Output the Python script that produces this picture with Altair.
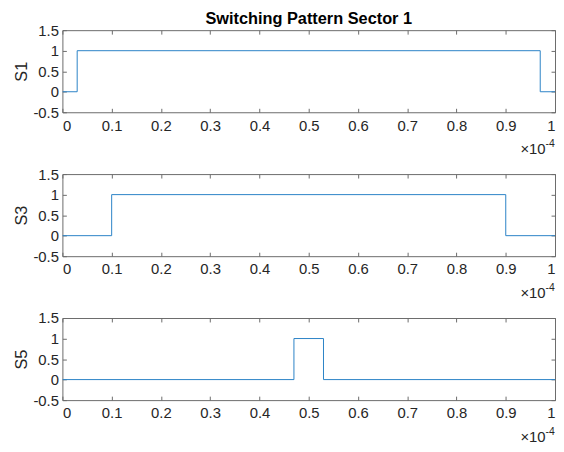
import altair as alt
import pandas as pd

# switching instants (in units of 1e-4 s) and states
t_s1 = [0.0, 0.03, 0.97, 1.0]
v_s1 = [0, 1, 0, 0]
t_s3 = [0.0, 0.10, 0.90, 1.0]
v_s3 = [0, 1, 0, 0]
t_s5 = [0.0, 0.47, 0.53, 1.0]
v_s5 = [0, 1, 0, 0]

x_ticks = [0, 0.1, 0.2, 0.3, 0.4, 0.5, 0.6, 0.7, 0.8, 0.9, 1]
y_ticks = [-0.5, 0, 0.5, 1, 1.5]
exp_base = ["×10"]
exp_power = ["-4"]

FONT = "Liberation Sans"
W, H = 498, 83
AX = "#6b6b6b"
TXT = "#262626"
LINE = "#2b83c6"


def panel(t, v, name, title=None):
    df = pd.DataFrame({"t": t, "v": v})
    xs = alt.Scale(domain=[0, 1], nice=False, zero=False)
    ys = alt.Scale(domain=[-0.5, 1.5], nice=False, zero=False)
    common = dict(domain=False, grid=False, tickSize=4, offset=-4,
                  tickColor=AX, tickWidth=1, labelFont=FONT, labelFontSize=15,
                  labelColor=TXT, labelExpr="'' + datum.value")
    main = alt.Chart(df).mark_line(
        interpolate="step-after", color=LINE, strokeWidth=1, clip=True
    ).encode(
        x=alt.X("t:Q", scale=xs, axis=alt.Axis(
            orient="bottom", values=x_ticks, labelPadding=6, title=None,
            **common)),
        y=alt.Y("v:Q", scale=ys, axis=alt.Axis(
            orient="left", values=y_ticks, labelPadding=4,
            title=name, titleFont=FONT, titleFontSize=16.5,
            titleFontWeight="normal", titleColor=TXT, titlePadding=3,
            **common)),
    )
    mirror = alt.Chart(df).mark_line(opacity=0).encode(
        x=alt.X("t:Q", scale=xs, axis=alt.Axis(
            orient="top", values=x_ticks, labels=False, title=None, **common)),
        y=alt.Y("v:Q", scale=ys, axis=alt.Axis(
            orient="right", values=y_ticks, labels=False, title=None, **common)),
    )
    base_txt = alt.Chart(pd.DataFrame({"s": exp_base})).mark_text(
        font=FONT, fontSize=15, color=TXT, align="right", baseline="alphabetic"
    ).encode(text="s:N", x=alt.value(W - 9.5), y=alt.value(H + 42))
    pow_txt = alt.Chart(pd.DataFrame({"s": exp_power})).mark_text(
        font=FONT, fontSize=10.5, color=TXT, align="left", baseline="alphabetic"
    ).encode(text="s:N", x=alt.value(W - 9.5), y=alt.value(H + 35))
    ch = alt.layer(main, mirror, base_txt, pow_txt).resolve_axis(
        x="independent", y="independent")
    props = dict(width=W, height=H)
    if title:
        props["title"] = alt.TitleParams(
            title, font=FONT, fontSize=16.5, fontWeight="bold", color="#000000",
            anchor="middle", offset=-4)
    return ch.properties(**props)


chart = alt.vconcat(
    panel(t_s1, v_s1, "S1", "Switching Pattern Sector 1"),
    panel(t_s3, v_s3, "S3"),
    panel(t_s5, v_s5, "S5"),
    spacing=62.5,
    bounds="flush",
).properties(
    padding={"left": 5, "top": 0, "right": 0, "bottom": 0},
    background="white",
).configure_view(stroke=AX, strokeWidth=1)

chart.save("out.html", embed_options={"renderer": "svg", "actions": False})
